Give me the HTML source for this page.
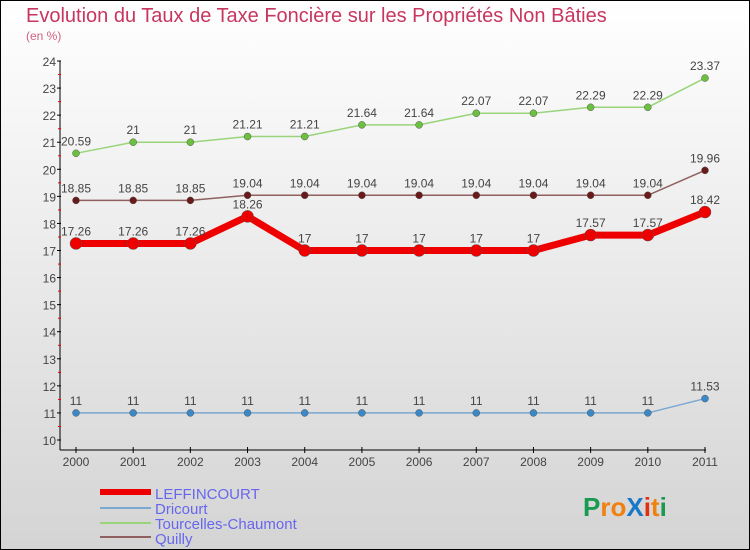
<!DOCTYPE html>
<html><head><meta charset="utf-8"><style>
body{margin:0}
svg{display:block;font-family:"Liberation Sans",sans-serif}
</style></head><body>
<svg id="c" width="750" height="550" xmlns="http://www.w3.org/2000/svg">
<defs><linearGradient id="bg" x1="0" y1="0" x2="0" y2="1"><stop offset="0" stop-color="#ffffff"/><stop offset="1" stop-color="#d4d4d4"/></linearGradient></defs>
<rect x="0.5" y="0.5" width="749" height="549" fill="url(#bg)" stroke="#000"/>
<text x="26" y="22" font-size="20" fill="#c8365f">Evolution du Taux de Taxe Foncière sur les Propriétés Non Bâties</text>
<text x="26" y="40" font-size="12" fill="#d06080">(en %)</text>
<g id="axes"></g>
<g id="series"></g>
<g>
<line x1="100" y1="492" x2="151" y2="492" stroke="#e00" stroke-width="6"/>
<text x="155" y="499" font-size="15" fill="#6666ee">LEFFINCOURT</text>
<line x1="100" y1="508" x2="151" y2="508" stroke="#7aa8d0" stroke-width="2"/>
<text x="155" y="514" font-size="15" fill="#6666ee">Dricourt</text>
<line x1="100" y1="523" x2="151" y2="523" stroke="#9ad47a" stroke-width="2"/>
<text x="155" y="529" font-size="15" fill="#6666ee">Tourcelles-Chaumont</text>
<line x1="100" y1="537" x2="151" y2="537" stroke="#906060" stroke-width="2"/>
<text x="155" y="544" font-size="15" fill="#6666ee">Quilly</text>
</g>
<g font-size="26" font-weight="bold">
<text x="583" y="516"><tspan fill="#1a9a50">P</tspan><tspan fill="#f08010">ro</tspan><tspan fill="#1a78c8">X</tspan><tspan fill="#e03010">i</tspan><tspan fill="#f08010">t</tspan><tspan fill="#1a9a50">i</tspan></text>
</g>
</svg>
<script>
const years=[2000,2001,2002,2003,2004,2005,2006,2007,2008,2009,2010,2011];
const yTicks=[10,11,12,13,14,15,16,17,18,19,20,21,22,23,24];
const leffincourt=[17.26,17.26,17.26,18.26,17,17,17,17,17,17.57,17.57,18.42];
const dricourt=[11,11,11,11,11,11,11,11,11,11,11,11.53];
const tourcelles=[20.59,21,21,21.21,21.21,21.64,21.64,22.07,22.07,22.29,22.29,23.37];
const quilly=[18.85,18.85,18.85,19.04,19.04,19.04,19.04,19.04,19.04,19.04,19.04,19.96];
const NS="http://www.w3.org/2000/svg";
function xs(i){return 76+i*(629/11);}
function ys(v){return 440-(v-10)*(379/14);}
function mk(t,a,p){const e=document.createElementNS(NS,t);for(const k in a)e.setAttribute(k,a[k]);p.appendChild(e);return e;}
const ax=document.getElementById('axes');
let l=mk('line',{x1:60,y1:61,x2:60,y2:450,stroke:'#000'},ax);


l=mk('line',{x1:60,y1:450,x2:706,y2:450,stroke:'#000'},ax);


yTicks.forEach(v=>{const y=ys(v);
 mk('line',{x1:57,y1:y,x2:61,y2:y,stroke:'#000'},ax);
 if(v<24)mk('line',{x1:58,y1:y-13.5,x2:61,y2:y-13.5,stroke:'#e00'},ax);
 const t=mk('text',{x:56,y:y+5,'font-size':12,fill:'#444','text-anchor':'end'},ax);t.textContent=v;
 
 });
years.forEach((yr,i)=>{const x=xs(i);
 mk('line',{x1:x,y1:447,x2:x,y2:453,stroke:'#000'},ax);
 const t=mk('text',{x:x,y:466,'font-size':12,fill:'#444','text-anchor':'middle'},ax);t.textContent=yr;
 
 });
const sg=document.getElementById('series');
function draw(vals,name,color,w,r,dot){
 const g=mk('g',{},sg);
 
 
 const p=mk('polyline',{points:vals.map((v,i)=>xs(i)+','+ys(v)).join(' '),fill:'none',stroke:color,'stroke-width':w,'stroke-linejoin':'round'},g);
 
 
 vals.forEach((v,i)=>{const c=mk('circle',{cx:xs(i),cy:ys(v),r:r,fill:dot,stroke:'#555','stroke-width':0.5},g);
  
  
  const t=mk('text',{x:xs(i),y:ys(v)-8,'font-size':12,fill:'#444','text-anchor':'middle'},g);t.textContent=v;
  
  });
}
draw(dricourt,'dricourt','#7aa8d0',1.5,3.5,'#3a88c8');
draw(tourcelles,'tourcelles','#9ad47a',1.5,3.5,'#6cc040');
draw(quilly,'quilly','#906060',1.5,3.5,'#6a1a1a');
draw(leffincourt,'leffincourt','#e00',7,6,'#e00');
</script>
</body></html>
